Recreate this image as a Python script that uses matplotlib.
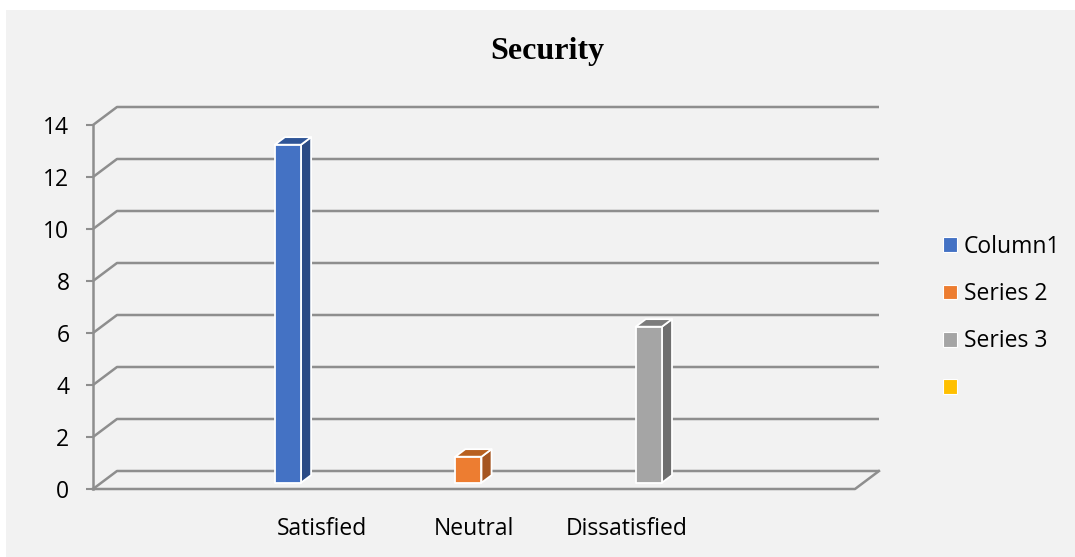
import numpy as np
import matplotlib
matplotlib.use("Agg")
import matplotlib.pyplot as plt
from matplotlib.patches import Polygon, Rectangle, Patch

# categories along the floor (first and last slots are empty)
categories = ["", "Satisfied", "Neutral", "Dissatisfied", ""]
series_names = ["Column1", "Series 2", "Series 3", ""]
column1 = [np.nan, 13, np.nan, np.nan, np.nan]
series2 = [np.nan, np.nan, 1, np.nan, np.nan]
series3 = [np.nan, np.nan, np.nan, 6, np.nan]
series4 = [np.nan, np.nan, np.nan, np.nan, np.nan]
yticks = [0, 2, 4, 6, 8, 10, 12, 14]

front_cols = ["#4472C4", "#ED7D31", "#A5A5A5", "#FFC000"]
side_cols = ["#2B4B85", "#A65520", "#6E6E6E", "#B38600"]
top_cols = ["#2F5597", "#B8601F", "#7C7C7C", "#C79500"]
grid_col = "#8E8E8E"
tick_font = "Open Sans"
fs = 16.5

W, H = 1075, 557
fig = plt.figure(figsize=(W / 100, H / 100), dpi=100, facecolor="white")
fig.patches.append(Rectangle((6 / W, 0), 1, 1 - 10 / H, transform=fig.transFigure,
                             facecolor="#F2F2F2", edgecolor="none", zorder=-10))

ax = fig.add_axes([93 / W, (H - 489) / H, 762 / W, 364 / H])
ax.set_facecolor("none")
ax.set_xlim(0, len(categories))
ax.set_ylim(0, 14)

# oblique depth of the floor, in data units
dx, dy = 24 / 152.4, 18 / 26.0
xmax = len(categories)

# back wall gridlines running forward to the front axis
for v in yticks:
    ax.plot([0, dx, xmax + dx], [v, v + dy, v + dy], color=grid_col, lw=1.8,
            clip_on=False, zorder=1, solid_capstyle="butt")
# floor
ax.plot([0, xmax, xmax + dx], [0, 0, dy], color=grid_col, lw=1.8, clip_on=False, zorder=1)

# bars
slot, bw = 0.184, 0.172
z0, z1 = 0.35, 0.77
all_series = [column1, series2, series3, series4]
for i, vals in enumerate(all_series):
    for c, v in enumerate(vals):
        if np.isnan(v):
            continue
        xc = c + 0.5 + (i - 1.5) * slot
        x0, x1 = xc - bw / 2 + z0 * dx, xc + bw / 2 + z0 * dx
        b0, t0 = z0 * dy, v + z0 * dy
        ddx, ddy = (z1 - z0) * dx, (z1 - z0) * dy
        kw = dict(edgecolor="white", lw=1.3, clip_on=False, zorder=3, joinstyle="round")
        ax.add_patch(Polygon([(x1, b0), (x1 + ddx, b0 + ddy), (x1 + ddx, t0 + ddy), (x1, t0)],
                             facecolor=side_cols[i], **kw))
        ax.add_patch(Polygon([(x0, t0), (x1, t0), (x1 + ddx, t0 + ddy), (x0 + ddx, t0 + ddy)],
                             facecolor=top_cols[i], **kw))
        ax.add_patch(Polygon([(x0, b0), (x1, b0), (x1, t0), (x0, t0)],
                             facecolor=front_cols[i], **kw))

for s in ["top", "right", "bottom"]:
    ax.spines[s].set_visible(False)
ax.spines["left"].set_color(grid_col)
ax.spines["left"].set_linewidth(1.8)
ax.set_yticks(yticks)
ax.tick_params(axis="y", length=5, width=1.5, color=grid_col, pad=12,
               labelsize=fs, labelcolor="black")
ax.set_xticks(np.arange(len(categories)) + 0.5)
ax.set_xticklabels(categories)
ax.tick_params(axis="x", length=0, pad=20, labelsize=fs, labelcolor="black")
for lab in ax.get_xticklabels() + ax.get_yticklabels():
    lab.set_fontfamily(tick_font)

fig.text(547 / W, 1 - 59 / H, "Security", ha="center", va="baseline",
         fontfamily="Liberation Serif", fontweight="bold", fontsize=23)

handles = [Patch(facecolor=front_cols[i], edgecolor="white", lw=0.8) for i in range(4)]
fig.legend(handles, series_names, loc="upper left", bbox_to_anchor=(922 / W, 1 - 214 / H),
           frameon=False, handlelength=0.62, handleheight=0.62, handletextpad=0.3,
           labelspacing=1.02, prop={"family": tick_font, "size": fs})

fig.savefig("out.png", dpi=100, facecolor=fig.get_facecolor())
